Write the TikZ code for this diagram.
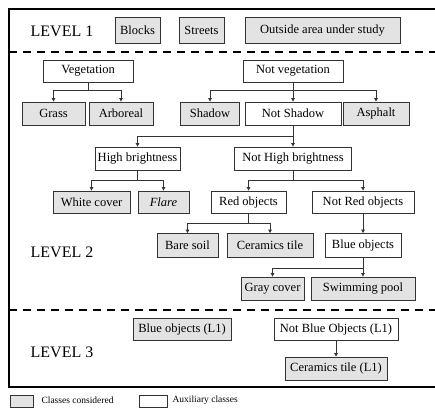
\documentclass[tikz,border=0pt]{standalone}
\usepackage{fontspec}
\setmainfont{Liberation Serif}
\usetikzlibrary{arrows.meta}
\definecolor{clsgray}{HTML}{E3E3E3}
\definecolor{boxline}{HTML}{333333}

\begin{document}
\begin{tikzpicture}[
    x=1pt, y=-1pt,
    font=\fontsize{12.5}{14}\selectfont,
    aux/.style={draw=boxline, line width=0.8pt, fill=white, minimum height=22pt, inner sep=1pt},
    cls/.style={aux, fill=clsgray},
    lvl/.style={font=\fontsize{16}{18}\selectfont},
    legtext/.style={anchor=west, font=\fontsize{9.5}{11}\selectfont},
    arr/.style={draw=boxline, line width=0.8pt, -{Triangle[length=3.5pt,width=3.5pt]}},
    sep/.style={line width=1.8pt, dash pattern=on 8pt off 6pt}
  ]
    \clip (0,0) rectangle (435,410);
    % frame and level separators
    \draw[line width=2.6pt] (450,9) -- (9,9) -- (9,387) -- (450,387);
    \draw[sep] (9,52) -- (450,52);
    \draw[sep] (9,310) -- (450,310);

    % level 1
    \node[lvl] (lvone) at (62,31) {LEVEL 1};
    \node[cls, minimum width=45pt, minimum height=26pt] (blocks) at (137.5,30.5) {Blocks};
    \node[cls, minimum width=45pt, minimum height=26pt] (streets) at (201.5,30.5) {Streets};
    \node[cls, minimum width=155pt, minimum height=26pt] (outside) at (322.5,30.5) {Outside area under study};

    % level 2
    \node[lvl] (lvtwo) at (62,252) {LEVEL 2};
    \node[aux, minimum width=90pt] (veg) at (88,71) {Vegetation};
    \node[aux, minimum width=100pt] (nveg) at (293,71) {Not vegetation};
    \node[cls, minimum width=63pt, minimum height=23pt] (grass) at (53.5,113.5) {Grass};
    \node[cls, minimum width=64pt, minimum height=23pt] (arboreal) at (121,113.5) {Arboreal};
    \node[cls, minimum width=59pt, minimum height=23pt] (shadow) at (210,113.5) {Shadow};
    \node[aux, minimum width=96pt, minimum height=23pt] (nshadow) at (293,113.5) {Not Shadow};
    \node[cls, minimum width=66pt, minimum height=23pt] (asphalt) at (376,113.5) {Asphalt};
    \node[aux, minimum width=85pt, minimum height=23pt] (hbright) at (137.5,158.5) {High brightness};
    \node[aux, minimum width=117pt, minimum height=23pt] (nhbright) at (293,158.5) {Not High brightness};
    \node[cls, minimum width=77pt] (white) at (91.5,202) {White cover};
    \node[cls, minimum width=51pt] (flare) at (163.5,202) {\textit{Flare}};
    \node[aux, minimum width=75pt] (red) at (248.5,202) {Red objects};
    \node[aux, minimum width=102pt] (nred) at (363,202) {Not Red objects};
    \node[cls, minimum width=61pt, minimum height=24pt] (baresoil) at (187.5,245.5) {Bare soil};
    \node[cls, minimum width=86pt, minimum height=24pt] (ceramics) at (270,245.5) {Ceramics tile};
    \node[aux, minimum width=76pt, minimum height=24pt] (blue) at (363,245.5) {Blue objects};
    \node[cls, minimum width=63pt, minimum height=23pt] (graycov) at (272.5,288.5) {Gray cover};
    \node[cls, minimum width=104pt, minimum height=23pt] (pool) at (363,288.5) {Swimming pool};

    % level 3
    \node[lvl] (lvthree) at (62,352) {LEVEL 3};
    \node[cls, minimum width=98pt] (blueone) at (182,329) {Blue objects (L1)};
    \node[aux, minimum width=124pt] (nblueone) at (336,329) {Not Blue Objects (L1)};
    \node[cls, minimum width=102pt, minimum height=23pt] (ceramone) at (336,368.5) {Ceramics tile (L1)};

    % legend
    \node[cls, minimum width=23pt, minimum height=12pt] (legcls) at (21.5,401) {};
    \node[legtext] (legclstext) at (38,400) {Classes considered};
    \node[aux, minimum width=28pt, minimum height=12pt] (legaux) at (153,401) {};
    \node[legtext] (legauxtext) at (169,400) {Auxiliary classes};

    % tree connectors
    \draw[arr] (veg.south) -- ++(0,8) -| (grass.north);
    \draw[arr] (veg.south) -- ++(0,8) -| (arboreal.north);
    \draw[arr] (nveg.south) -- ++(0,8) -| (shadow.north);
    \draw[arr] (nveg.south) -- (nshadow.north);
    \draw[arr] (nveg.south) -- ++(0,8) -| (asphalt.north);
    \draw[arr] (nshadow.south) -- ++(0,11) -| (hbright.north);
    \draw[arr] (nshadow.south) -- (nhbright.north);
    \draw[arr] (hbright.south) -- ++(0,10) -| (white.north);
    \draw[arr] (hbright.south) -- ++(0,10) -| (flare.north);
    \draw[arr] (nhbright.south) -- ++(0,10) -| (red.north);
    \draw[arr] (nhbright.south) -- ++(0,10) -| (nred.north);
    \draw[arr] (red.south) -- ++(0,10) -| (baresoil.north);
    \draw[arr] (red.south) -- ++(0,10) -| (ceramics.north);
    \draw[arr] (nred) -- (blue);
    \draw[arr] (blue.south) -- ++(0,10) -| (graycov.north);
    \draw[arr] (blue.south) -- (pool.north);
    \draw[arr] (nblueone) -- (ceramone);
\end{tikzpicture}
\end{document}
